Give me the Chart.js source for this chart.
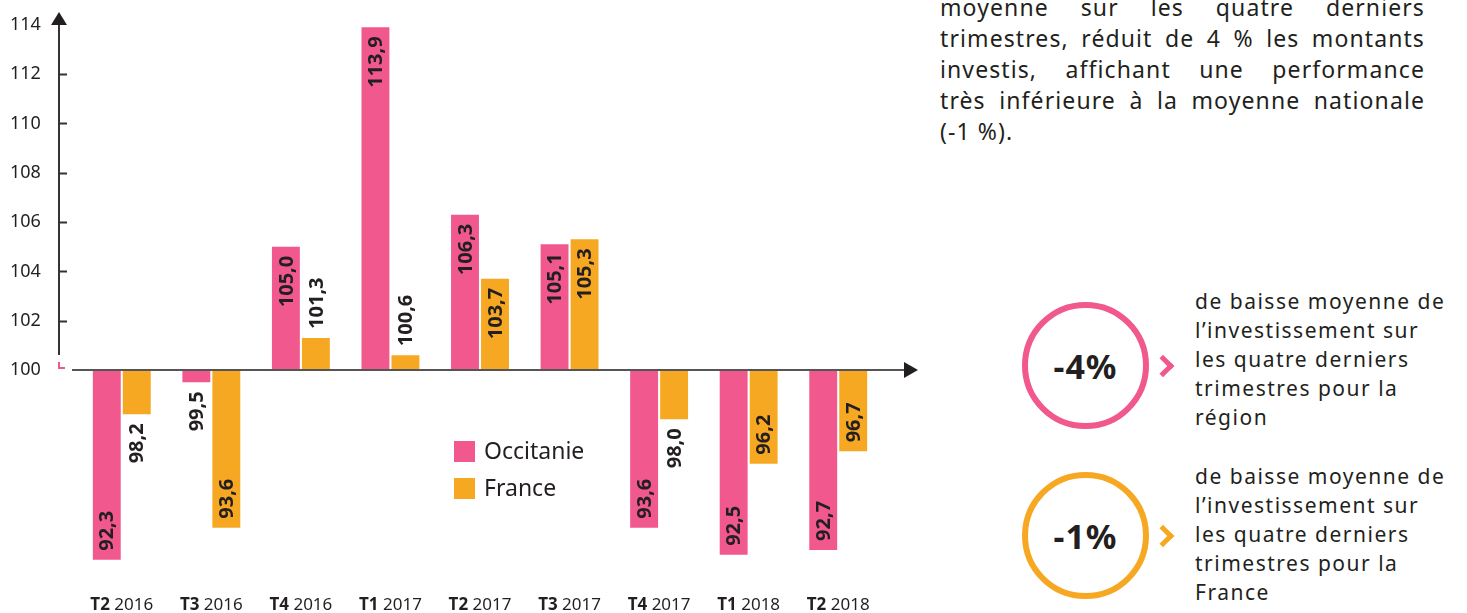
<!DOCTYPE html>
<html>
<head>
<meta charset="utf-8">
<script src="https://cdn.jsdelivr.net/npm/chart.js@4.4.0/dist/chart.umd.min.js"></script>
<style>
    body { margin: 0; width: 1467px; height: 613px; overflow: hidden; background: #fff;
           font-family: 'Noto Sans', sans-serif; color: #231f20; position: relative; }
    #wrap { position: absolute; left: 0; top: 0; width: 930px; height: 613px; }
    .para { position: absolute; left: 940px; top: -8px; width: 485px; font-size: 23px;
            line-height: 31px; letter-spacing: 1.1px; }
    .para div { text-align: justify; text-align-last: justify; white-space: nowrap; }
    .para div.last { text-align-last: left; }
    .ring { position: absolute; left: 1022px; width: 127px; height: 127px; box-sizing: border-box;
            border-radius: 50%; border: 6px solid; display: flex; align-items: center;
            justify-content: center; font-weight: 700; font-size: 34px; letter-spacing: 1px; }
    .chev { position: absolute; left: 1155px; width: 11px; height: 11px; border-top: 5px solid;
            border-right: 5px solid; transform: rotate(45deg); }
    .note { position: absolute; left: 1195px; font-size: 21px; line-height: 29px; letter-spacing: 1.5px; }
</style>
</head>
<body>
<div id="wrap"><canvas id="chart"></canvas></div>

<div class="para">
    <div>moyenne sur les quatre derniers</div>
    <div>trimestres, réduit de 4 % les montants</div>
    <div>investis, affichant une performance</div>
    <div>très inférieure à la moyenne nationale</div>
    <div class="last">(-1 %).</div>
</div>

<div class="ring" style="top:302px;border-color:#f0588e">-4%</div>
<div class="chev" style="top:358px;border-color:#f0588e"></div>
<div class="note" style="top:287px">de baisse moyenne de<br>l’investissement sur<br>les quatre derniers<br>trimestres pour la<br>région</div>

<div class="ring" style="top:472px;border-color:#f7a823">-1%</div>
<div class="chev" style="top:528px;border-color:#f7a823"></div>
<div class="note" style="top:462px">de baisse moyenne de<br>l’investissement sur<br>les quatre derniers<br>trimestres pour la<br>France</div>

<script>
// ── Data ────────────────────────────────────────────────
const quarters = ['T2', 'T3', 'T4', 'T1', 'T2', 'T3', 'T4', 'T1', 'T2'];
const years = ['2016', '2016', '2016', '2017', '2017', '2017', '2017', '2018', '2018'];
const occitanie = [92.3, 99.5, 105.0, 113.9, 106.3, 105.1, 93.6, 92.5, 92.7];
const france = [98.2, 93.6, 101.3, 100.6, 103.7, 105.3, 98.0, 96.2, 96.7];
const yTicks = [100, 102, 104, 106, 108, 110, 112, 114];
const BASE = 100;

const PINK = '#f0588e';
const ORANGE = '#f7a823';
const INK = '#231f20';
const FONT = "'Noto Sans', sans-serif";

const fmt = v => v.toFixed(1).replace('.', ',');

// ── Axes, arrows, labels, legend ────────────────────────
const decor = {
    id: 'decor',
    afterDatasetsDraw(chart) {
        const { ctx } = chart;
        const y = chart.scales.y;
        const y0 = y.getPixelForValue(BASE);
        const top = y.getPixelForValue(114);
        ctx.save();
        ctx.font = `700 20px ${FONT}`;
        ctx.fillStyle = INK;
        ctx.textBaseline = 'middle';
        const pad = 9;
        chart.data.datasets.forEach((ds, di) => {
            chart.getDatasetMeta(di).data.forEach((bar, i) => {
                const v = ds.values[i];
                const inside = Math.abs(v - BASE) > 2.5;
                const py = y.getPixelForValue(v);
                let oy, align;
                if (v >= BASE) {
                    oy = inside ? py + pad : py - pad;
                    align = inside ? 'right' : 'left';
                } else {
                    oy = inside ? py - pad : py + pad;
                    align = inside ? 'left' : 'right';
                }
                ctx.save();
                ctx.translate(bar.x, oy);
                ctx.rotate(-Math.PI / 2);
                ctx.textAlign = align;
                ctx.fillText(fmt(v), 0, 1);
                ctx.restore();
            });
        });

        // axis lines
        const ax = chart.chartArea.left - 18;
        ctx.strokeStyle = '#333';
        ctx.fillStyle = INK;
        ctx.lineWidth = 2;
        ctx.beginPath();
        ctx.moveTo(ax, y0 - 15);
        ctx.lineTo(ax, top - 2);
        ctx.stroke();
        ctx.beginPath();
        ctx.moveTo(ax, top - 13);
        ctx.lineTo(ax - 8, top);
        ctx.lineTo(ax + 8, top);
        ctx.closePath();
        ctx.fill();
        yTicks.slice(1, -1).forEach(t => {
            const ty = Math.round(y.getPixelForValue(t)) + 0.5;
            ctx.beginPath();
            ctx.moveTo(ax, ty);
            ctx.lineTo(ax + 8, ty);
            ctx.stroke();
        });

        ctx.strokeStyle = '#555';
        ctx.beginPath();
        ctx.moveTo(ax + 13, y0);
        ctx.lineTo(905, y0);
        ctx.stroke();
        ctx.beginPath();
        ctx.moveTo(918, y0);
        ctx.lineTo(904, y0 - 8);
        ctx.lineTo(904, y0 + 8);
        ctx.closePath();
        ctx.fill();

        // small pink corner mark
        ctx.strokeStyle = PINK;
        ctx.beginPath();
        ctx.moveTo(ax, y0 - 8);
        ctx.lineTo(ax, y0 - 2);
        ctx.lineTo(ax + 6, y0 - 2);
        ctx.stroke();

        // category labels: bold quarter + year
        const x = chart.scales.x;
        ctx.textBaseline = 'middle';
        ctx.textAlign = 'left';
        quarters.forEach((q, i) => {
            ctx.font = `700 17px ${FONT}`;
            const wq = ctx.measureText(q + ' ').width;
            ctx.font = `400 17px ${FONT}`;
            const wy = ctx.measureText(years[i]).width;
            const cx = x.getPixelForValue(i) - (wq + wy) / 2;
            ctx.font = `700 17px ${FONT}`;
            ctx.fillText(q, cx, 605);
            ctx.font = `400 17px ${FONT}`;
            ctx.fillText(years[i], cx + wq, 605);
        });

        // legend
        ctx.font = `400 23px ${FONT}`;
        chart.data.datasets.forEach((ds, di) => {
            const ly = 441 + di * 37;
            ctx.fillStyle = ds.backgroundColor;
            ctx.fillRect(454, ly, 21, 21);
            ctx.fillStyle = INK;
            ctx.fillText(ds.label, 484, ly + 11);
        });
        ctx.restore();
    }
};

new Chart(document.getElementById('chart'), {
    type: 'bar',
    data: {
        labels: quarters.map((q, i) => q + ' ' + years[i]),
        datasets: [
            {
                label: 'Occitanie',
                values: occitanie,
                data: occitanie.map(v => [BASE, v]),
                backgroundColor: PINK,
                categoryPercentage: 0.67,
                barPercentage: 0.93
            },
            {
                label: 'France',
                values: france,
                data: france.map(v => [BASE, v]),
                backgroundColor: ORANGE,
                categoryPercentage: 0.67,
                barPercentage: 0.93
            }
        ]
    },
    options: {
        responsive: true,
        maintainAspectRatio: false,
        animation: false,
        layout: { padding: { top: 17.5, right: 47, left: 10, bottom: 33.5 } },
        plugins: { legend: { display: false }, tooltip: { enabled: false } },
        scales: {
            x: { display: false },
            y: {
                min: 91.5,
                max: 114.3,
                grid: { display: false, drawTicks: false },
                border: { display: false },
                afterBuildTicks: s => { s.ticks = yTicks.map(v => ({ value: v })); },
                ticks: {
                    padding: 0,
                    crossAlign: 'far',
                    color: INK,
                    font: { family: FONT, size: 18 }
                },
                afterFit: s => { s.width = 67; }
            }
        }
    },
    plugins: [decor]
});
</script>
</body>
</html>
